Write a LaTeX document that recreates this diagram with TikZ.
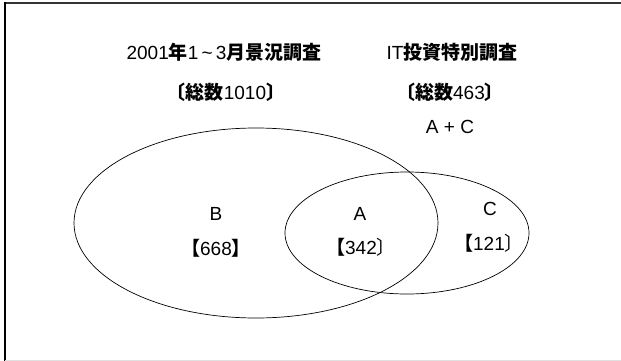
\documentclass[tikz,border=0pt]{standalone}
\usepackage{fontspec}
\setmainfont{Liberation Sans}
\newfontfamily\cjk{Noto Sans CJK JP}
\newcommand{\J}[1]{{\cjk\bfseries #1}}
\newcommand{\Jr}[1]{{\cjk #1}}
\tikzset{
  lbl/.style={inner sep=0pt, font=\fontsize{19}{19}\selectfont},
  venn/.style={draw=black, line width=0.7pt},
}
\begin{document}
\begin{tikzpicture}[x=1pt,y=-1pt]
\useasboundingbox (0,0) rectangle (621,361);
\fill[white] (0,0) rectangle (621,361);
% frame
\draw[line width=2pt, black!80] (4,3) -- (621,3);
\draw[line width=2pt, black] (5,2) -- (5,361);
\draw[line width=1pt, black!12] (5,360.5) -- (621,360.5);
% ellipses
\draw[venn] (256,223) ellipse [x radius=182, y radius=95];
\draw[venn] (407,233) ellipse [x radius=122, y radius=61];
% titles
\node[lbl] (t1) at (224,52) {2001\J{年}1\,\textasciitilde\,3\J{月景況調査}};
\node[lbl] (t2) at (452,52) {IT\J{投資特別調査}};
\node[lbl] (s1) at (226,92) {\J{〔総数}1010\J{〕}};
\node[lbl] (s2) at (450,92) {\J{〔総数}463\J{〕}};
\node[lbl] (ac) at (450,127) {A + C};
% regions
\node[lbl] (b) at (216,214) {B};
\node[lbl] (bn) at (216,248) {\J{【}668\J{】}};
\node[lbl] (a) at (360,214) {A};
\node[lbl] (an) at (361,247) {\J{【}342\Jr{〕}};
\node[lbl] (c) at (490,209) {C};
\node[lbl] (cn) at (489,243) {\J{【}121\Jr{〕}};
\end{tikzpicture}
\end{document}
